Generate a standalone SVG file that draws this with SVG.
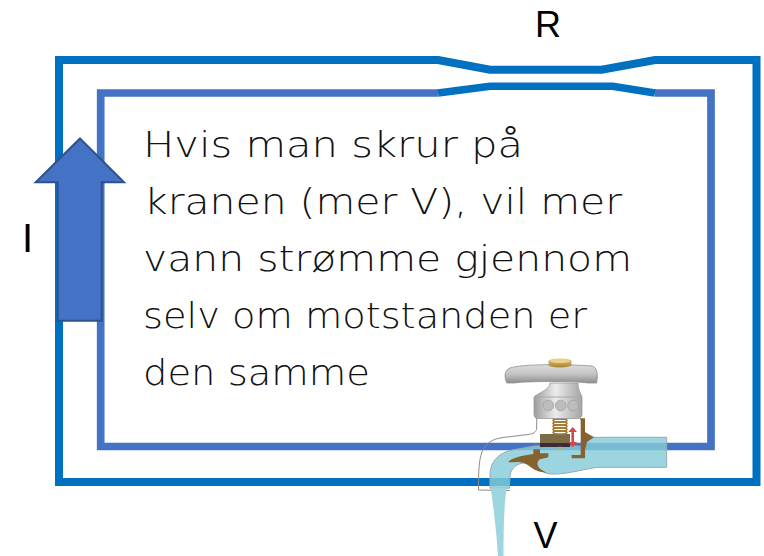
<svg xmlns="http://www.w3.org/2000/svg" width="764" height="556" viewBox="0 0 764 556">
  <style>
    .outer { fill: none; stroke: #0070C0; stroke-width: 8; stroke-linejoin: miter; }
    .inner { fill: none; stroke: #4472C4; stroke-width: 7.7; stroke-linejoin: miter; }
    .narrow { fill: none; stroke: #0070C0; stroke-width: 7.5; stroke-linejoin: miter; }
    .label { font-family: "Liberation Sans", Arial, sans-serif; fill: #000; }
    .note { font-family: "DejaVu Sans", "Liberation Sans", sans-serif; font-weight: 200; font-size: 35px; fill: #111; }
    .brown { fill: #85622F; }
  </style>
  <defs>
    <linearGradient id="metalH" x1="0" y1="0" x2="1" y2="0">
      <stop offset="0" stop-color="#9C9C9C"/>
      <stop offset="0.45" stop-color="#ECECEC"/>
      <stop offset="1" stop-color="#A4A4A4"/>
    </linearGradient>
    <linearGradient id="metalV" x1="0" y1="0" x2="0" y2="1">
      <stop offset="0" stop-color="#DCDCDC"/>
      <stop offset="0.5" stop-color="#C4C4C4"/>
      <stop offset="1" stop-color="#8E8E8E"/>
    </linearGradient>
    <linearGradient id="brass" x1="0" y1="0" x2="0" y2="1">
      <stop offset="0" stop-color="#E6C878"/>
      <stop offset="1" stop-color="#A9812E"/>
    </linearGradient>
  </defs>

  <!-- connectors: the two pipes, with the narrow resistor section R -->
  <g id="connectors">
    <path class="outer" d="M438,60 L490,69.7 L601.7,69.7 L655,60 L756.5,60 L756.5,482 L59,482 L59,60 Z"/>
    <path class="inner" d="M438,93 L100.7,93 L100.7,446.5 L711,446.5 L711,93 L655,93"/>
    <path class="narrow" d="M438,93 L490,86.2 L612.7,86.2 L655,93"/>
  </g>

  <!-- current arrow -->
  <g id="current">
    <polygon points="80,138.5 124,182.3 101.7,182.3 101.7,320.7 57.7,320.7 57.7,182.3 35.7,182.3" fill="#4472C4" stroke="#2F528F" stroke-width="2"/>
    <text class="label" x="22" y="252" font-size="40">I</text>
  </g>

  <g id="label-r">
    <text class="label" x="548" y="37" font-size="36" text-anchor="middle">R</text>
  </g>

  <!-- tap -->
  <g id="tap">
    <!-- tap body outline -->
    <path d="M536.7,415 L536.7,428 C536.7,432 533,434 528,434.5 L503,437.5 C492,439 486,443 482,452 C479,460 478.5,470 478.5,490 L510,490.5" fill="none" stroke="#8C8C8C" stroke-width="1"/>
    <!-- water inside -->
    <path d="M666.7,437.3 L585,437.3 L585,446 L535,446 L512,450 C498,453 490,462 490,475 L490,488.3 L509.3,488.3 L510,476 C511,468 517,463 525,463 C533,463 538,470 547,473.5 C560,476 580,470 597,467.3 L666.7,467.3 Z" fill="#86CCD8" fill-opacity="0.82" stroke="#9AAAB0" stroke-width="1"/>
    <!-- stream -->
    <path d="M490.7,488 C493,505 496,525 498,556 L503.5,556 C503.5,530 504,505 506.7,488 Z" fill="#9ED6E0"/>
    <!-- valve seat -->
    <path class="brown" d="M508.3,461.7 C512,458 520,456 533.3,454 L533.3,449.3 L540,449.3 L540,453.3 L548.3,453.3 L548.3,457.3 L540,459.3 C536,462 537,467 541.7,470 L546.7,472.7 C540,472 536,471 532,468 C528,465 524,462 518,462 C514,462 511,463 508.3,461.7 Z"/>
    <path class="brown" d="M580,418.3 L585,418.3 L585,432 L594,437.3 L587,442 L585,450 L585,458.3 L571.7,458.3 L571.7,455 L580.7,455 L580.7,421 Z"/>
    <!-- washer -->
    <rect x="540" y="434" width="30" height="9" fill="#7B6C47"/>
    <rect x="540" y="443" width="30" height="4" fill="#3B2A3A"/>
    <circle cx="560" cy="448.2" r="1.6" fill="#C9A24A"/>
    <!-- spring -->
    <g fill="none" stroke="#A57B2E" stroke-width="1.6">
      <ellipse cx="560" cy="417.5" rx="7" ry="1.6"/>
      <ellipse cx="560" cy="420.5" rx="7" ry="1.6"/>
      <ellipse cx="560" cy="423.5" rx="7" ry="1.6"/>
      <ellipse cx="560" cy="426.5" rx="7" ry="1.6"/>
      <ellipse cx="560" cy="429.5" rx="7" ry="1.6"/>
      <ellipse cx="560" cy="432.5" rx="7" ry="1.6"/>
    </g>
    <!-- movement arrow -->
    <polygon points="572.7,427 577,432 574,432 574,442 577,442 572.7,447 568.4,442 571.4,442 571.4,432 568.4,432" fill="#D9434A"/>
    <!-- bonnet -->
    <path d="M550,383 L578,383 C578,390 581,394 582,397 L582,414 C582,417 580,418.5 578,418.5 L538,418.5 C535.5,418.5 534,417 534,414 L534,397 C536,394 550,390 550,383 Z" fill="url(#metalH)" stroke="#9A9A9A" stroke-width="0.8"/>
    <line x1="534" y1="397" x2="582" y2="397" stroke="#A8A8A8" stroke-width="1"/>
    <circle cx="548.3" cy="405.5" r="5.3" fill="#BDBDBD" stroke="#A2A2A2" stroke-width="0.8"/>
    <circle cx="560.7" cy="405.5" r="5.3" fill="#BDBDBD" stroke="#A2A2A2" stroke-width="0.8"/>
    <circle cx="573" cy="405.5" r="5.3" fill="#BDBDBD" stroke="#A2A2A2" stroke-width="0.8"/>
    <!-- handle -->
    <path d="M510,368 C522,364 562,364 592,366 C597,367 598.5,375 596.5,383 L588,383 C575,381 528,381 514,383 L507,383 C504,378 504,370 510,368 Z" fill="url(#metalV)" stroke="#8E8E8E" stroke-width="0.8"/>
    <!-- cap -->
    <path d="M548.5,361 L548.5,365 A11.5,2.5 0 0 0 571.5,365 L571.5,361 A11.5,2.5 0 0 0 548.5,361 Z" fill="url(#brass)"/>
    <ellipse cx="560" cy="361" rx="10" ry="2" fill="#EAD28C"/>
  </g>

  <g id="label-v">
    <text class="label" x="545.5" y="548" font-size="36" text-anchor="middle">V</text>
  </g>

  <!-- explanation -->
  <g id="note">
    <text class="note" x="143" y="157" textLength="380" lengthAdjust="spacingAndGlyphs">Hvis man skrur på</text>
    <text class="note" x="144" y="214" textLength="478" lengthAdjust="spacingAndGlyphs">kranen (mer V), vil mer</text>
    <text class="note" x="143" y="271" textLength="489" lengthAdjust="spacingAndGlyphs">vann strømme gjennom</text>
    <text class="note" x="143" y="328" textLength="444" lengthAdjust="spacingAndGlyphs">selv om motstanden er</text>
    <text class="note" x="143" y="385" textLength="227" lengthAdjust="spacingAndGlyphs">den samme</text>
  </g>
</svg>
